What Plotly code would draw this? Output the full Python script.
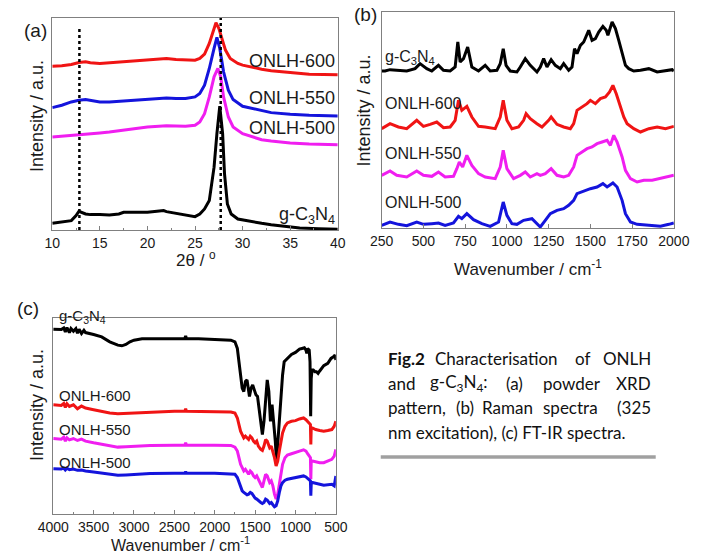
import plotly.graph_objects as go

W, H = 708, 553

# ---------------- (a) XRD ----------------
xrd_tt_gcn = [10, 11, 12, 12.5, 12.8, 13.5, 14, 15, 16, 17, 17.5, 18, 19, 20, 21, 21.7, 22, 23, 24, 25,
              25.5, 26, 26.5, 27, 27.3, 27.6, 27.9, 28.1, 28.4, 28.8, 29.5, 30, 31, 32, 33, 34, 35, 36, 38, 40]
xrd_gcn = [20, 23, 28, 43, 56, 48, 46, 46, 45, 48, 53, 53, 52, 53, 56, 58, 55, 50, 46, 40,
           48, 63, 88, 188, 288, 370, 288, 168, 78, 48, 33, 30, 26, 20, 16, 12, 8, 6, 4, 2]

xrd_tt_600 = [10, 11, 12, 12.8, 13.5, 14, 15, 16, 17, 18, 19, 20, 21, 22, 23, 24, 25, 25.5, 26, 26.5,
              27, 27.2, 27.5, 27.8, 28.2, 28.7, 29.5, 30, 31, 32, 33, 34, 35, 37, 40]
xrd_600 = [490, 491, 495, 501, 503, 500, 498, 500, 503, 506, 508, 510, 512, 513, 510, 508, 508, 513, 526, 558,
           603, 620, 603, 573, 538, 513, 498, 493, 486, 481, 476, 473, 470, 466, 464]

xrd_tt_550 = [10, 11, 12, 12.8, 13.5, 14, 15, 16, 17, 18, 19, 20, 21, 22, 23, 24, 25, 25.5, 26, 26.5,
              27, 27.3, 27.6, 28, 28.5, 29, 30, 31, 32, 33, 35, 37, 40]
xrd_550 = [366, 373, 383, 388, 390, 388, 383, 383, 385, 388, 390, 391, 393, 395, 393, 393, 398, 408, 433, 483,
           543, 576, 543, 473, 418, 390, 370, 363, 356, 351, 346, 343, 341]

xrd_tt_500 = [10, 11, 12, 13, 14, 15, 16, 17, 18, 19, 20, 21, 22, 23, 24, 25, 25.5, 26, 26.5, 27,
              27.4, 27.7, 28, 28.5, 29, 30, 31, 32, 33, 35, 37, 40]
xrd_500 = [278, 280, 283, 286, 288, 290, 293, 296, 300, 304, 308, 310, 312, 311, 310, 313, 323, 348, 398, 458,
           483, 458, 398, 338, 308, 288, 278, 270, 266, 260, 257, 255]

xrd_ref_lines = [12.85, 27.7]
xrd_ref_tops = [608, 634]

# ---------------- (b) Raman ----------------
ram_wn_gcn = [250, 270, 300, 350, 400, 450, 480, 520, 550, 590, 620, 660, 690, 706, 720, 740, 765, 790, 830, 870,
              900, 940, 960, 978, 995, 1020, 1060, 1080, 1110, 1140, 1180, 1200, 1220, 1240, 1265, 1290, 1320,
              1340, 1370, 1390, 1405, 1420, 1440, 1460, 1490, 1510, 1530, 1550, 1575, 1595, 1605, 1630, 1650,
              1670, 1690, 1710, 1730, 1760, 1800, 1850, 1900, 1950, 1990, 2000]
ram_gcn = [471, 471, 475, 473, 471, 478, 493, 478, 471, 488, 473, 471, 483, 558, 498, 508, 543, 483, 471, 488,
           471, 473, 493, 538, 488, 471, 468, 483, 508, 488, 468, 483, 508, 483, 505, 488, 478,
           493, 473, 483, 538, 523, 548, 558, 593, 563, 568, 588, 605, 593, 578, 618, 598,
           563, 523, 488, 478, 471, 473, 478, 468, 473, 475, 471]

ram_wn_600 = [250, 300, 350, 400, 460, 500, 540, 580, 620, 660, 690, 710, 730, 760, 790, 830, 870, 930, 960, 978,
              1000, 1030, 1070, 1100, 1115, 1140, 1180, 1210, 1250, 1265, 1300, 1340, 1380, 1400, 1420, 1450,
              1480, 1500, 1530, 1560, 1590, 1615, 1635, 1655, 1680, 1700, 1720, 1760, 1800, 1850, 1900, 1950, 2000]
ram_600 = [298, 313, 303, 298, 323, 305, 311, 318, 301, 303, 323, 383, 353, 365, 333, 305, 303, 298, 333, 383,
           323, 298, 303, 323, 343, 328, 313, 303, 323, 333, 311, 303, 298, 313, 353, 363,
           373, 383, 373, 388, 393, 408, 428, 403, 363, 333, 313, 298, 288, 298, 303, 298, 305]

ram_wn_550 = [250, 300, 340, 400, 460, 500, 550, 590, 630, 680, 700, 715, 735, 760, 790, 830, 870, 930, 960, 978,
              1000, 1040, 1080, 1110, 1140, 1180, 1200, 1230, 1265, 1300, 1340, 1370, 1400, 1420, 1450, 1480,
              1510, 1540, 1570, 1600, 1620, 1640, 1660, 1690, 1710, 1740, 1780, 1820, 1870, 1920, 1970, 2000]
ram_550 = [158, 171, 158, 153, 171, 158, 155, 168, 153, 155, 178, 198, 183, 218, 188, 163, 153, 148, 183, 233,
           178, 148, 158, 168, 153, 163, 158, 163, 178, 158, 153, 158, 183, 218, 228, 238,
           243, 253, 258, 263, 248, 278, 258, 213, 173, 148, 138, 143, 143, 148, 155, 158]

ram_wn_500 = [250, 300, 350, 400, 460, 500, 550, 590, 630, 680, 710, 730, 760, 800, 850, 900, 950, 978, 1000, 1030,
              1060, 1100, 1150, 1190, 1200, 1230, 1260, 1300, 1340, 1370, 1400, 1420, 1460, 1500, 1540, 1575,
              1600, 1635, 1660, 1690, 1710, 1740, 1780, 1850, 1920, 1970, 2000]
ram_500 = [8, 18, 11, 7, 18, 11, 13, 15, 8, 15, 35, 28, 43, 25, 13, 5, 18, 78, 38, 13,
           11, 23, 28, 8, 3, 23, 43, 53, 58, 68, 83, 103, 111, 118, 123, 133,
           123, 135, 123, 83, 43, 18, 11, 8, 5, 11, 15]

# ---------------- (c) FT-IR ----------------
ftir_wn_gcn = [4000, 3900, 3870, 3850, 3830, 3800, 3780, 3750, 3720, 3700, 3680, 3650, 3620, 3600, 3500,
               3400, 3300, 3200, 3150, 3100, 3050, 3000, 2900, 2700, 2500, 2370, 2360, 2350, 2200, 2000,
               1800, 1750, 1720, 1700, 1680, 1660, 1640, 1620, 1600, 1580, 1570, 1550, 1530, 1510, 1490,
               1470, 1450, 1430, 1410, 1390, 1370, 1350, 1330, 1310, 1290, 1270, 1250, 1235, 1220, 1200,
               1180, 1160, 1140, 1120, 1100, 1050, 1000, 950, 920, 890, 870, 860, 850, 830, 820,
               812, 805, 795, 780, 760, 740, 720, 700, 650, 600, 560, 530, 510, 500]
ftir_gcn = [558, 557, 562, 550, 563, 548, 560, 552, 560, 546, 558, 545, 555, 548, 542,
            535, 520, 510, 508, 512, 520, 525, 529, 530, 529, 530, 538, 529, 529, 528,
            525, 520, 500, 460, 420, 380, 370, 400, 405, 360, 355, 380, 390, 375, 360,
            355, 320, 280, 240, 280, 360, 405, 370, 280, 330, 280, 220, 160, 210, 280,
            360, 420, 460, 465, 470, 482, 488, 498, 500, 502, 495, 485, 500, 495, 460,
            295, 410, 435, 435, 430, 430, 425, 432, 448, 455, 470, 475, 480, 465]

ftir_wn_onlh = [4000, 3900, 3870, 3850, 3830, 3800, 3750, 3700, 3650, 3600, 3500, 3400, 3300, 3200, 3100,
                3000, 2800, 2500, 2370, 2360, 2350, 2000, 1800, 1750, 1720, 1700, 1680, 1660, 1640, 1620,
                1600, 1580, 1560, 1540, 1520, 1500, 1480, 1460, 1430, 1410, 1390, 1370, 1350, 1320, 1300,
                1280, 1260, 1240, 1220, 1200, 1180, 1160, 1130, 1100, 1050, 1000, 950, 900, 870, 850,
                830, 815, 810, 805, 790, 750, 700, 650, 600, 550, 520, 500]
ftir_600 = [330, 328, 334, 322, 333, 325, 330, 318, 326, 320, 315, 310, 305, 303, 304,
            307, 309, 310, 310, 318, 310, 310, 308, 305, 290, 270, 250, 240, 230, 235,
            230, 225, 235, 230, 220, 215, 220, 205, 195, 192, 205, 225, 220, 200, 205,
            190, 170, 145, 160, 190, 220, 245, 265, 275, 280, 282, 287, 290, 285, 280,
            275, 270, 210, 260, 260, 255, 252, 250, 252, 255, 265, 280]
ftir_550 = [228, 226, 232, 220, 230, 224, 228, 222, 226, 220, 215, 210, 205, 202, 203,
            205, 207, 208, 208, 215, 208, 208, 207, 202, 190, 170, 150, 140, 130, 135,
            125, 120, 130, 125, 115, 110, 115, 105, 92, 80, 100, 120, 115, 95, 100,
            85, 60, 45, 60, 90, 120, 150, 170, 178, 182, 185, 190, 194, 190, 182,
            175, 170, 105, 160, 160, 157, 155, 155, 160, 165, 175, 195]
ftir_500 = [137, 136, 139, 133, 138, 134, 136, 132, 133, 130, 127, 123, 120, 117, 118,
            120, 122, 123, 123, 128, 123, 123, 122, 120, 110, 95, 80, 70, 65, 62,
            58, 60, 65, 62, 55, 48, 45, 40, 35, 32, 35, 45, 42, 32, 35,
            28, 22, 25, 40, 65, 85, 95, 102, 105, 107, 110, 112, 115, 112, 107,
            102, 100, 55, 90, 95, 92, 90, 87, 88, 90, 85, 115]

# ---------------- text ----------------
sample_names = ["g-C<sub>3</sub>N<sub>4</sub>", "ONLH-600", "ONLH-550", "ONLH-500"]
caption_lines = [
    ["<b>Fig.2</b>", "Characterisation", "of", "ONLH"],
    ["and", "g-C<sub>3</sub>N<sub>4</sub>:", "(a)", "powder", "XRD"],
    ["pattern,", "(b)", "Raman", "spectra", "(325"],
    ["nm excitation), (c) FT-IR spectra."],
]

C_BLACK, C_RED, C_MAG, C_BLUE = "#000000", "#f01414", "#f01ef0", "#1414dc"
FONT = "Liberation Sans, Arial, sans-serif"


def X(p):
    return p / W


def Y(p):
    return 1 - p / H


fig = go.Figure()


def add(x, y, color, ax):
    fig.add_trace(go.Scatter(x=x, y=y, mode="lines", line=dict(color=color, width=3),
                             xaxis="x" + ax, yaxis="y" + ax, showlegend=False, hoverinfo="skip"))


add(xrd_tt_600, xrd_600, C_RED, "")
add(xrd_tt_550, xrd_550, C_BLUE, "")
add(xrd_tt_500, xrd_500, C_MAG, "")
add(xrd_tt_gcn, xrd_gcn, C_BLACK, "")
for xv, top in zip(xrd_ref_lines, xrd_ref_tops):
    fig.add_trace(go.Scatter(x=[xv, xv], y=[0, top], mode="lines",
                             line=dict(color="black", width=2.5, dash="dot"),
                             showlegend=False, hoverinfo="skip"))

add(ram_wn_gcn, ram_gcn, C_BLACK, "2")
add(ram_wn_600, ram_600, C_RED, "2")
add(ram_wn_550, ram_550, C_MAG, "2")
add(ram_wn_500, ram_500, C_BLUE, "2")

add(ftir_wn_gcn, ftir_gcn, C_BLACK, "3")
add(ftir_wn_onlh, ftir_600, C_RED, "3")
add(ftir_wn_onlh, ftir_550, C_MAG, "3")
add(ftir_wn_onlh, ftir_500, C_BLUE, "3")

frame = dict(showline=True, mirror=True, linecolor="#808080", linewidth=1, showgrid=False,
             zeroline=False)
tickfont = dict(family=FONT, size=14, color="#1a1a1a")

layout = dict(
    width=W, height=H, margin=dict(l=0, r=0, t=0, b=0),
    paper_bgcolor="white", plot_bgcolor="white", showlegend=False,
    xaxis=dict(domain=[X(38), X(337)], range=[10, 40], dtick=5, ticks="inside", ticklen=4,
               tickcolor="#808080", tickfont=tickfont,
               minor=dict(dtick=2.5, ticks="inside", ticklen=2, tickcolor="#808080"), **frame),
    yaxis=dict(domain=[Y(230), Y(18)], range=[0, 634], showticklabels=False, ticks="", **frame),
    xaxis2=dict(domain=[X(383), X(689)], range=[250, 2000], dtick=250, tick0=250, ticks="inside",
                ticklen=4, tickcolor="#808080", tickfont=tickfont, anchor="y2", **frame),
    yaxis2=dict(domain=[Y(228), Y(12)], range=[0, 648], showticklabels=False, ticks="",
                anchor="x2", **frame),
    xaxis3=dict(domain=[X(39), X(335)], range=[4000, 500], dtick=500, ticks="inside", ticklen=4,
                tickcolor="#808080", tickfont=tickfont, anchor="y3",
                minor=dict(dtick=250, ticks="inside", ticklen=2, tickcolor="#808080"), **frame),
    yaxis3=dict(domain=[Y(514), Y(318)], range=[0, 592], showticklabels=False, ticks="",
                anchor="x3", **frame),
)
fig.update_layout(**layout)

ann = []


def txt(t, x, y, size, xanchor="center", angle=0, family=FONT, color="#1a1a1a"):
    ann.append(dict(text=t, x=X(x), y=Y(y), xref="paper", yref="paper", showarrow=False,
                    xanchor=xanchor, yanchor="middle", textangle=angle,
                    font=dict(family=family, size=size, color=color)))


# panel letters
txt("(a)", 20, 30, 19)
txt("(b)", 366, 15, 19)
txt("(c)", 13, 308, 19)

# axis titles
txt("2θ / <sup>o</sup>", 188, 259, 17)
txt("Wavenumber / cm<sup>-1</sup>", 536, 268, 17)
txt("Wavenumber / cm<sup>-1</sup>", 172, 544, 16)
for xx, yy in [(22, 116), (364, 111), (22, 405)]:
    txt("Intensity / a.u.", xx, yy, 18, angle=-90)

# sample labels (a)
txt(sample_names[1], 336, 61, 18, xanchor="right")
txt(sample_names[2], 336, 98, 18, xanchor="right")
txt(sample_names[3], 336, 128, 18, xanchor="right")
txt(sample_names[0], 336, 215, 18, xanchor="right")
# (b)
txt(sample_names[0], 384, 58, 16, xanchor="left")
txt(sample_names[1], 384, 103, 16, xanchor="left")
txt(sample_names[2], 384, 153, 16, xanchor="left")
txt(sample_names[3], 384, 202, 16, xanchor="left")
# (c)
txt(sample_names[0], 43, 316, 15, xanchor="left")
txt(sample_names[1], 43, 395, 15, xanchor="left")
txt(sample_names[2], 43, 429, 15, xanchor="left")
txt(sample_names[3], 43, 462, 15, xanchor="left")

# caption (justified by word placement)
CAP = "Lato, Carlito, Calibri, sans-serif"
line_y = [358, 383, 407, 432]
word_x = [
    [(387, "left"), (503, "center"), (593, "center"), (667, "right")],
    [(387, "left"), (464, "center"), (522, "center"), (582, "center"), (667, "right")],
    [(387, "left"), (470, "center"), (515, "center"), (581, "center"), (667, "right")],
    [(387, "left")],
]
for words, pos, yy in zip(caption_lines, word_x, line_y):
    for w, (xx, anc) in zip(words, pos):
        txt(w, xx, yy, 17, xanchor=anc, family=CAP, color="#111111")

fig.update_layout(annotations=ann)
fig.add_shape(type="line", xref="paper", yref="paper", x0=X(382), x1=X(670), y0=Y(457), y1=Y(457),
              line=dict(color="#a0a0a0", width=3.5))

fig.write_html("out.html")
